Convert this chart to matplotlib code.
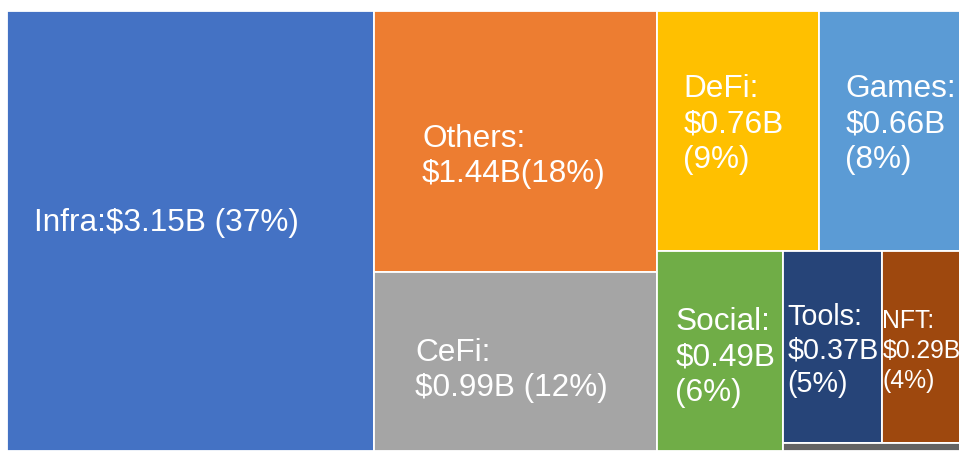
import matplotlib
matplotlib.use("Agg")
import matplotlib.pyplot as plt
from matplotlib.patches import Rectangle

# ---- data ----
categories = ["Infra", "Others", "CeFi", "DeFi", "Games", "Social", "Tools", "NFT", "Misc"]
values_b = [3.15, 1.44, 0.99, 0.76, 0.66, 0.49, 0.37, 0.29, 0.028]
percents = [37, 18, 12, 9, 8, 6, 5, 4, None]
label_templates = [
    "{n}:${v:.2f}B ({p}%)",
    "{n}:\n${v:.2f}B({p}%)",
    "{n}:\n${v:.2f}B ({p}%)",
    "{n}:\n${v:.2f}B\n({p}%)",
    "{n}:\n${v:.2f}B\n({p}%)",
    "{n}:\n${v:.2f}B\n({p}%)",
    "{n}:\n${v:.2f}B\n({p}%)",
    "{n}:\n${v:.2f}B\n({p}%)",
    None,
]
# nesting structure of the treemap (slice-and-dice, alternating direction)
tree = ["Infra", ["Others", "CeFi"], [["DeFi", "Games"], ["Social", [["Tools", "NFT"], "Misc"]]]]

# ---- styles ----
colors = {
    "Infra": "#4472C4", "Others": "#ED7D31", "CeFi": "#A5A5A5", "DeFi": "#FFC000",
    "Games": "#5B9BD5", "Social": "#70AD47", "Tools": "#264478", "NFT": "#9E480E",
    "Misc": "#636363",
}
font_sizes = {"Tools": 20.7, "NFT": 17.8}
line_spacings = {"NFT": 1.32, "Tools": 1.25}
default_fs = 22.7
default_ls = 1.23
# label offsets (pixels): dx from box left, dy from box vertical centre
label_offsets = {
    "Infra": (27, -9), "Others": (48, 14), "CeFi": (41, 8), "DeFi": (26, -8),
    "Games": (26, -8), "Social": (18, 5), "Tools": (4, 2), "NFT": (0, 3),
}
plt.rcParams["font.family"] = ["Liberation Sans", "DejaVu Sans"]

val = dict(zip(categories, values_b))
pct = dict(zip(categories, percents))
tmpl = dict(zip(categories, label_templates))


def node_value(node):
    if isinstance(node, str):
        return val[node]
    return sum(node_value(c) for c in node)


rects = {}


def layout(node, x, y, w, h, depth):
    if isinstance(node, str):
        rects[node] = (x, y, w, h)
        return
    total = node_value(node)
    pos = 0.0
    for child in node:
        frac = node_value(child) / total
        if depth % 2 == 0:
            layout(child, x + pos * w, y, frac * w, h, depth + 1)
        else:
            layout(child, x, y + pos * h, w, frac * h, depth + 1)
        pos += frac


W, H = 959, 452
fig = plt.figure(figsize=(W / 100, H / 100), dpi=100)
ax = fig.add_axes([0, 0, 1, 1])
ax.set_xlim(0, W)
ax.set_ylim(H, 0)
ax.axis("off")

layout(tree, 7, 12, 953, 440, 0)

for name in categories:
    x, y, w, h = rects[name]
    ax.add_patch(Rectangle((x, y), w, h, facecolor=colors[name],
                           edgecolor="white", linewidth=1.3))
    if tmpl[name] is None:
        continue
    txt = tmpl[name].format(n=name, v=val[name], p=pct[name])
    dx, dy = label_offsets[name]
    ax.text(x + dx, y + h / 2 + dy, txt, color="white",
            fontsize=font_sizes.get(name, default_fs), ha="left", va="center",
            linespacing=line_spacings.get(name, default_ls), clip_on=True)

fig.savefig("out.png", dpi=100)
